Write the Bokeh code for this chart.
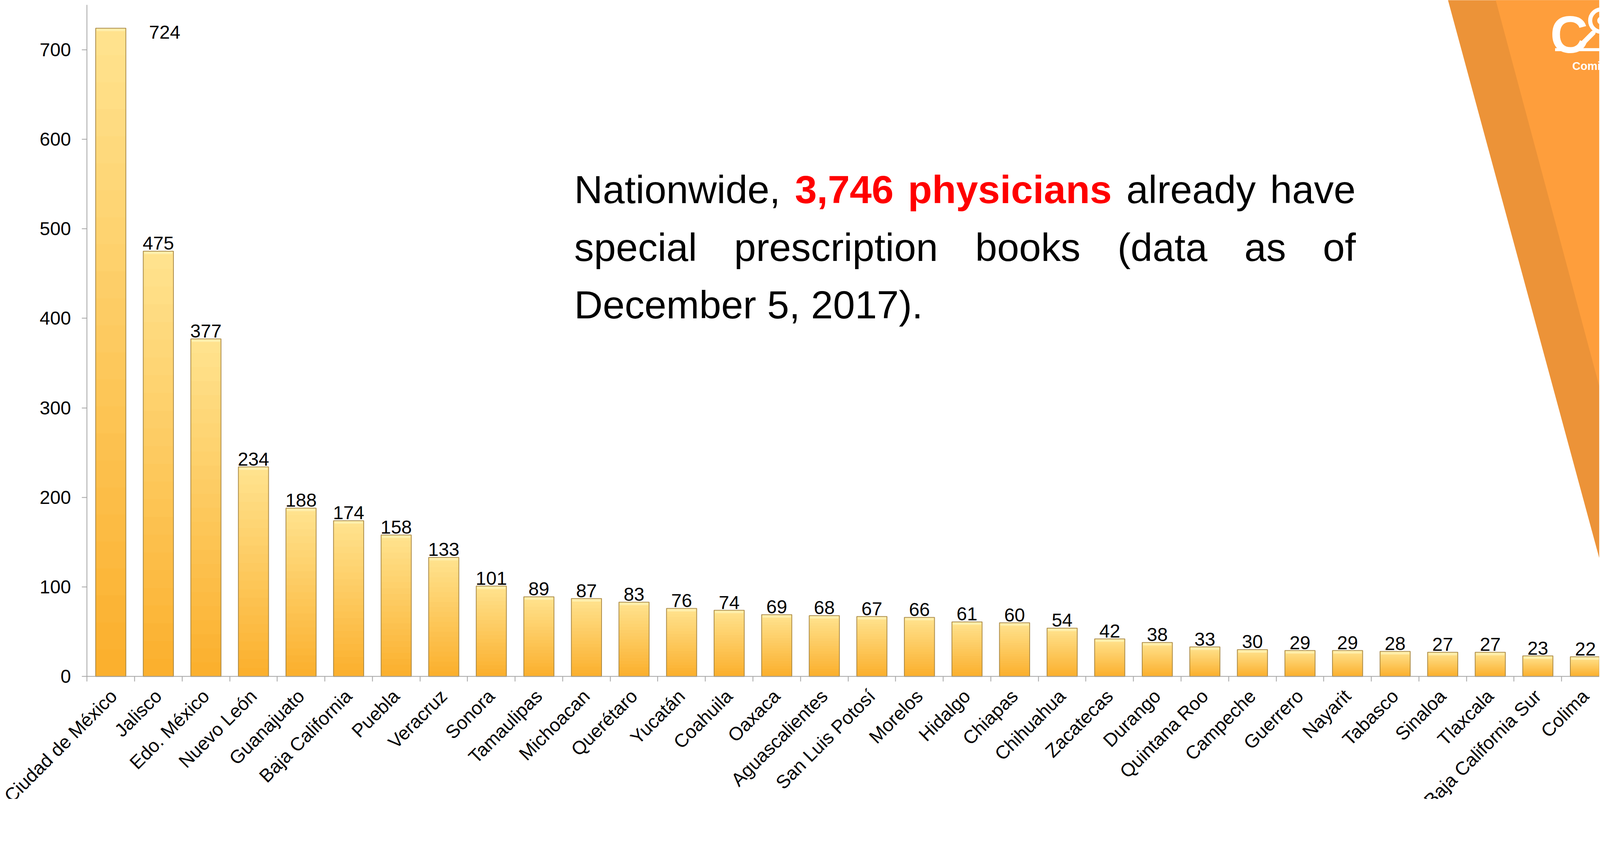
import math
from bokeh.plotting import figure
from bokeh.models import ColumnDataSource, Range1d, FixedTicker, LinearAxis
from bokeh.core.properties import value
from bokeh.embed import file_html
from bokeh.resources import INLINE

# ---------------- data ----------------
states = ["Ciudad de México", "Jalisco", "Edo. México", "Nuevo León", "Guanajuato",
          "Baja California", "Puebla", "Veracruz", "Sonora", "Tamaulipas", "Michoacan",
          "Querétaro", "Yucatán", "Coahuila", "Oaxaca", "Aguascalientes",
          "San Luis Potosí", "Morelos", "Hidalgo", "Chiapas", "Chihuahua", "Zacatecas",
          "Durango", "Quintana Roo", "Campeche", "Guerrero", "Nayarit", "Tabasco",
          "Sinaloa", "Tlaxcala", "Baja California Sur", "Colima"]
physicians = [724, 475, 377, 234, 188, 174, 158, 133, 101, 89, 87, 83, 76, 74, 69, 68,
              67, 66, 61, 60, 54, 42, 38, 33, 30, 29, 29, 28, 27, 27, 23, 22]
y_ticks = [0, 100, 200, 300, 400, 500, 600, 700]
y_axis_top = 750
note_line1 = ["Nationwide,", "3,746", "physicians", "already", "have"]
note_bold1 = [False, True, True, False, False]
note_line2 = ["special", "prescription", "books", "(data", "as", "of"]
note_line3 = ["December 5, 2017)."]
logo_letter = "C"
logo_text = "Comisión"

# ---------------- layout ----------------
# Targets are given in screenshot pixels; MAG converts them to CSS pixels.
MAG = 1.047
S = 1.0 / MAG
PAGE = 8
W_CSS = int(4304 * S) - 2 * PAGE
H_CSS = int(2158 * S) - 2 * PAGE

BASELINE = 1821         # screenshot y of the value 0
AXIS_X = 241            # screenshot x of the value axis
FRAME_L = PAGE * MAG
FRAME_R = (PAGE + W_CSS) * MAG
FRAME_T = PAGE * MAG
FRAME_B = (PAGE + H_CSS) * MAG
CAT_PX = 127.5          # one category, screenshot px
UNIT_PX = 2.40          # one physician, screenshot px
BAR_W = 0.635
X0 = 0.5                # left edge of the first category


def c(v):
    return v * S


def fs(v):
    n = int(round(v * S))
    if n % 100 == 0:      # avoid sizes such as 100px (parsed as a font weight)
        n += 1
    return "%dpx" % n


FONT = "Liberation Sans"
AXIS_GRAY = "#A3A3A3"
LABEL_PX = 50

x_start = X0 - (AXIS_X - FRAME_L) / CAT_PX
x_end = X0 + (FRAME_R - AXIS_X) / CAT_PX
p = figure(width=W_CSS, height=H_CSS, output_backend="svg", toolbar_location=None,
           x_range=Range1d(x_start, x_end),
           y_range=Range1d(-(FRAME_B - BASELINE) / UNIT_PX, (BASELINE - FRAME_T) / UNIT_PX),
           x_axis_type=None, y_axis_type=None,
           min_border_left=0, min_border_right=0,
           min_border_top=0, min_border_bottom=0)
p.outline_line_color = None
p.background_fill_color = "white"
p.border_fill_color = "white"

# screenshot-pixel ranges for decorations and the note
p.extra_x_ranges = {"px": Range1d(FRAME_L, FRAME_R)}
p.extra_y_ranges = {"py": Range1d(FRAME_B, FRAME_T)}
PXY = dict(x_range_name="px", y_range_name="py")

# ---------------- decorations (top-right band + logo) ----------------
p.patch(x=[3884, 4340, 4340], y=[-10, -10, 1540 * (4340 - 3884) / (4304 - 3884)],
        color="#EC9338", line_color=None, **PXY)
p.patch(x=[4012, 4340, 4340], y=[-10, -10, 1080 * (4340 - 4012) / (4304 - 4012)],
        color="#FE9E3C", line_color=None, **PXY)
p.text(x=[4163], y=[100], text=[logo_letter], text_font=value(FONT),
       text_font_style="bold", text_font_size=fs(140), text_color="white",
       text_baseline="alphabetic", text_align="left", **PXY)
p.circle(x=[4300], y=[63], radius=30, fill_color=None, line_color="white",
         line_width=c(11), **PXY)
p.circle(x=[4300], y=[63], radius=11, fill_color="white", line_color=None, **PXY)
p.line(x=[4252, 4278], y=[122, 96], line_color="white", line_width=c(13),
       line_cap="round", **PXY)
p.quad(left=[4176], right=[4340], top=[137], bottom=[145], color="white",
       line_color=None, **PXY)
p.text(x=[4222], y=[185], text=[logo_text], text_font=value(FONT),
       text_font_style="bold", text_font_size=fs(30), text_color="white",
       text_baseline="alphabetic", text_align="left", **PXY)

# ---------------- bars with vertical gradient ----------------
xs = list(range(1, len(states) + 1))
N = 24
bottom_rgb = (251, 175, 44)
top_rgb = (255, 227, 143)
L, R, B, T, C = [], [], [], [], []
for x, v in zip(xs, physicians):
    for k in range(N):
        f = (k + 0.5) / N
        rgb = tuple(int(round(b + (t - b) * f)) for b, t in zip(bottom_rgb, top_rgb))
        L.append(x - BAR_W / 2)
        R.append(x + BAR_W / 2)
        B.append(v * k / N)
        T.append(min(v, v * (k + 1) / N + 0.4))
        C.append("#%02x%02x%02x" % rgb)
p.quad(source=ColumnDataSource(dict(left=L, right=R, bottom=B, top=T, color=C)),
       left="left", right="right", bottom="bottom", top="top",
       fill_color="color", line_color=None)

hl = 8 / UNIT_PX
p.quad(left=[x - BAR_W / 2 + 0.02 for x in xs], right=[x + BAR_W / 2 - 0.02 for x in xs],
       top=physicians, bottom=[v - hl for v in physicians],
       fill_color="#FFF1B2", fill_alpha=0.85, line_color=None)
p.vbar(x=xs, top=physicians, width=BAR_W, fill_color=None,
       line_color="#9E7B36", line_width=2, line_alpha=0.85)

# ---------------- value labels ----------------
room = (21 + 56) / UNIT_PX
xoff = [round(c(145)) if v + room > y_axis_top else 0 for v in physicians]
yoff = [round(c(10)) if v + room > y_axis_top else -round(c(21)) for v in physicians]
p.text(source=ColumnDataSource(dict(x=xs, y=physicians, t=[str(v) for v in physicians],
                                    xo=xoff, yo=yoff)),
       x="x", y="y", text="t", x_offset="xo", y_offset="yo",
       text_font=value(FONT), text_font_size=fs(LABEL_PX), text_color="black",
       text_align="center", text_baseline="alphabetic")

# ---------------- note (justified) ----------------
REG = {' ': 278, ',': 278, '.': 278, '(': 333, ')': 333, 'a': 556, 'b': 556, 'c': 500,
       'd': 556, 'e': 556, 'f': 278, 'h': 556, 'i': 222, 'k': 500, 'l': 222, 'm': 833,
       'n': 556, 'o': 556, 'p': 556, 'r': 333, 's': 500, 't': 278, 'v': 500, 'w': 722,
       'y': 500, 'D': 722, 'N': 722}
BOLD = {' ': 278, ',': 278, 'a': 556, 'c': 556, 'h': 611, 'i': 278, 'n': 611, 'p': 611,
        's': 556, 'y': 556}


def text_w(s, bold, size):
    tbl = BOLD if bold else REG
    return sum(tbl.get(ch, 556) for ch in s) / 1000.0 * size


NOTE_SIZE = 106
NOTE_L, NOTE_R = 1547, 3642
NOTE_BASE = [516, 671, 824]


def justify(words, bolds):
    ws = [text_w(w, b, NOTE_SIZE) for w, b in zip(words, bolds)]
    gap = (NOTE_R - NOTE_L - sum(ws)) / (len(words) - 1)
    out, x = [], NOTE_L
    for w in ws:
        out.append(round(x, 1))
        x += w + gap
    return out


nx = justify(note_line1, note_bold1) + justify(note_line2, [False] * 6) + [NOTE_L]
ny = [NOTE_BASE[0]] * 5 + [NOTE_BASE[1]] * 6 + [NOTE_BASE[2]]
nt = note_line1 + note_line2 + note_line3
nb = note_bold1 + [False] * 7
reg = dict(x=[x for x, b in zip(nx, nb) if not b], y=[y for y, b in zip(ny, nb) if not b],
           t=[t for t, b in zip(nt, nb) if not b])
bld = dict(x=[x for x, b in zip(nx, nb) if b], y=[y for y, b in zip(ny, nb) if b],
           t=[t for t, b in zip(nt, nb) if b])
p.text(source=ColumnDataSource(reg), x="x", y="y", text="t", text_color="black",
       text_align="left", text_baseline="alphabetic",
       text_font=value(FONT), text_font_size=fs(NOTE_SIZE), **PXY)
p.text(source=ColumnDataSource(bld), x="x", y="y", text="t", text_color="#FF0000",
       text_font_style="bold", text_align="left", text_baseline="alphabetic",
       text_font=value(FONT), text_font_size=fs(NOTE_SIZE), **PXY)

# ---------------- axes ----------------
yaxis = LinearAxis(ticker=FixedTicker(ticks=y_ticks), bounds=(0, y_axis_top),
                   fixed_location=X0,
                   axis_line_color=AXIS_GRAY, axis_line_width=2,
                   major_tick_line_color=AXIS_GRAY, major_tick_line_width=2,
                   major_tick_out=13, major_tick_in=0,
                   minor_tick_line_color=None,
                   major_label_text_font=FONT, major_label_text_font_size=fs(LABEL_PX),
                   major_label_text_color="black", major_label_standoff=28)
p.add_layout(yaxis, "left")

# category axis drawn at value 0; separator ticks between categories
boundaries = [x - 0.5 for x in xs]
xaxis = LinearAxis(ticker=FixedTicker(ticks=xs, minor_ticks=boundaries),
                   fixed_location=0, bounds=(X0, x_end),
                   major_label_overrides={x: s for x, s in zip(xs, states)},
                   axis_line_color=AXIS_GRAY, axis_line_width=2,
                   major_tick_line_color=None, major_tick_out=0, major_tick_in=0,
                   minor_tick_line_color=AXIS_GRAY, minor_tick_line_width=2,
                   minor_tick_out=13, minor_tick_in=0,
                   major_label_orientation=math.pi / 4,
                   major_label_text_font=FONT, major_label_text_font_size=fs(LABEL_PX),
                   major_label_text_color="black", major_label_standoff=29)
p.add_layout(xaxis, "below")

open("out.html", "w").write(file_html(p, INLINE))
